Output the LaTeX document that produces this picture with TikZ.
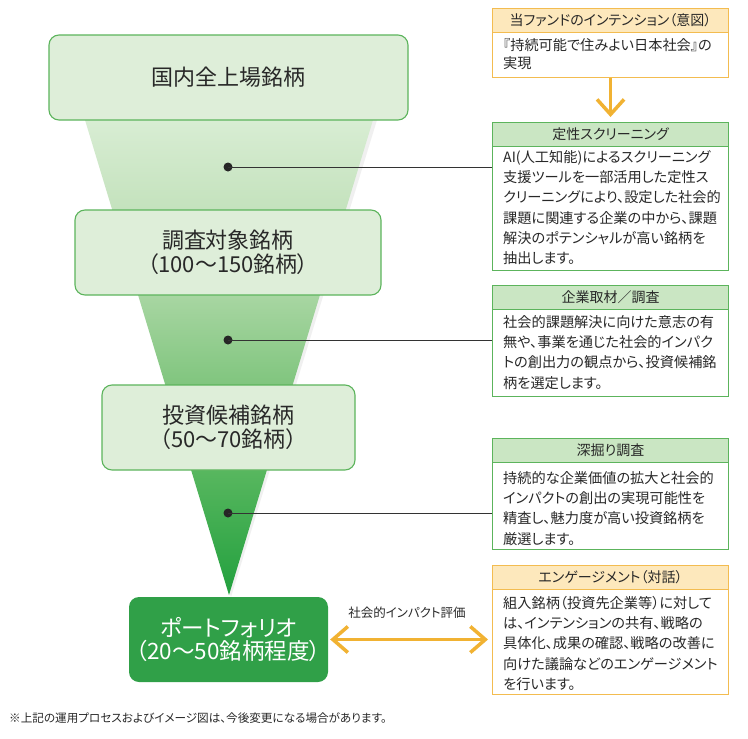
\documentclass[tikz,border=0pt]{standalone}
\usepackage{fontspec}
\setmainfont{Noto Sans CJK JP}[RawFeature=+palt]
\usetikzlibrary{arrows.meta}
\definecolor{gBorder}{RGB}{92,180,92}
\definecolor{gFill}{RGB}{222,238,217}
\definecolor{gHead}{RGB}{202,230,195}
\definecolor{gDark}{RGB}{48,160,72}
\definecolor{oBorder}{RGB}{243,188,80}
\definecolor{oHead}{RGB}{253,232,188}
\definecolor{oArrow}{RGB}{241,178,50}
\definecolor{txt}{RGB}{40,40,40}
\definecolor{fa}{RGB}{216,237,211}
\definecolor{fb}{RGB}{196,226,189}
\definecolor{fc}{RGB}{168,214,162}
\definecolor{fd}{RGB}{128,197,126}
\definecolor{fe}{RGB}{88,183,95}
\definecolor{ff}{RGB}{34,160,62}
\pgfdeclareverticalshading{funnelshade}{100bp}{color(0bp)=(ff); color(25bp)=(ff); color(38.2bp)=(fe); color(47.1bp)=(fd); color(56.6bp)=(fc); color(65.5bp)=(fb); color(75bp)=(fa); color(100bp)=(fa)}
\begin{document}
\begin{tikzpicture}[x=1pt,y=-1pt,
  stage/.style={draw=gBorder, line width=1.1pt, fill=gFill, rounded corners=10pt, align=center, text=txt, inner sep=0pt, font=\fontsize{22}{24}\selectfont},
  pfbox/.style={fill=gDark, rounded corners=10pt, align=center, text=white, inner sep=0pt, font=\fontsize{22.5}{23}\selectfont},
  hdr/.style={line width=1.1pt, minimum width=236pt, minimum height=24pt, inner sep=0pt, anchor=north west, text=txt, font=\fontsize{14}{16}\selectfont},
  ghdr/.style={hdr, draw=gBorder, fill=gHead},
  ohdr/.style={hdr, draw=oBorder, fill=oHead},
  bodybox/.style={line width=1.1pt, fill=white, minimum width=236pt, inner sep=0pt, anchor=north west},
  gbody/.style={bodybox, draw=gBorder},
  obody/.style={bodybox, draw=oBorder},
  btext/.style={anchor=north west, align=left, inner sep=0pt, text=txt, font=\fontsize{14.2}{20.3}\selectfont},
  dotnode/.style={circle, fill=black!85, minimum size=9pt, inner sep=0pt},
  conn/.style={draw=black!80, line width=0.9pt},
  oarrow/.style={draw=oArrow, line width=3.5pt}
]
\useasboundingbox (0,0) rectangle (748,739);
\fill[white] (0,0) rectangle (748,739);

% funnel
\fill[black!6] (88,120) -- (377,120) -- (231,597) -- cycle;
\shade[shading=funnelshade] (85,120) -- (373,120) -- (229,595) -- cycle;

% stages
\node[stage, minimum width=359pt, minimum height=85pt] (s1) at (228.5,77.5) {国内全上場銘柄};
\node[stage, minimum width=306pt, minimum height=85pt] (s2) at (228,252.5) {調査対象銘柄\\（100〜150銘柄）};
\node[stage, minimum width=253pt, minimum height=85pt] (s3) at (228.5,427.5) {投資候補銘柄\\（50〜70銘柄）};
\node[pfbox, minimum width=199pt, minimum height=85pt] (pf) at (228.5,639.5) {ポートフォリオ\\（20〜50銘柄程度）};

% dots
\node[dotnode] (d1) at (228,167) {};
\node[dotnode] (d2) at (228,340) {};
\node[dotnode] (d3) at (228,513) {};

% right boxes
\node[obody, minimum height=45pt] (b0) at (492,32) {};
\node[ohdr] (h0) at (492,8) {当ファンドのインテンション（意図）};
\node[btext, font=\fontsize{14.2}{18.5}\selectfont] (t0) at (503,38) {『持続可能で住みよい日本社会』の\\実現};

\node[gbody, minimum height=124pt] (b1) at (492,146) {};
\node[ghdr] (h1) at (492,122) {定性スクリーニング};
\node[btext] (t1) at (503,150) {AI(人工知能)によるスクリーニング\\支援ツールを一部活用した定性ス\\クリーニングにより、設定した社会的\\課題に関連する企業の中から、課題\\解決のポテンシャルが高い銘柄を\\抽出します。};

\node[gbody, minimum height=87pt] (b2) at (492,309) {};
\node[ghdr] (h2) at (492,285) {企業取材／調査};
\node[btext] (t2) at (503,315) {社会的課題解決に向けた意志の有\\無や、事業を通じた社会的インパク\\トの創出力の観点から、投資候補銘\\柄を選定します。};

\node[gbody, minimum height=87pt] (b3) at (492,462) {};
\node[ghdr] (h3) at (492,438) {深掘り調査};
\node[btext] (t3) at (503,471) {持続的な企業価値の拡大と社会的\\インパクトの創出の実現可能性を\\精査し、魅力度が高い投資銘柄を\\厳選します。};

\node[obody, minimum height=105pt] (b4) at (492,589) {};
\node[ohdr] (h4) at (492,565) {エンゲージメント（対話）};
\node[btext] (t4) at (503,596) {組入銘柄（投資先企業等）に対して\\は、インテンションの共有、戦略の\\具体化、成果の確認、戦略の改善に\\向けた議論などのエンゲージメント\\を行います。};

% connectors
\draw[conn] (d1.center) -- (d1 -| b1.west);
\draw[conn] (d2.center) -- (d2 -| b2.west);
\draw[conn] (d3.center) -- (d3 -| b3.west);

\draw[oarrow, -{Straight Barb[length=15pt,width=27pt]}, shorten >=5pt] (b0.south) -- (h1.north);
\draw[oarrow, {Straight Barb[length=15pt,width=26pt]}-{Straight Barb[length=15pt,width=26pt]}, shorten <=2pt, shorten >=4pt] (pf.east) -- (pf.east -| h4.west);
\node[text=txt, font=\fontsize{12.5}{14}\selectfont, inner sep=0pt] (lbl) at (407,613) {社会的インパクト評価};

\node[anchor=west, text=txt, font=\fontsize{11.6}{13}\selectfont, inner sep=0pt] (fn) at (9,718) {※上記の運用プロセスおよびイメージ図は、今後変更になる場合があります。};
\end{tikzpicture}
\end{document}
